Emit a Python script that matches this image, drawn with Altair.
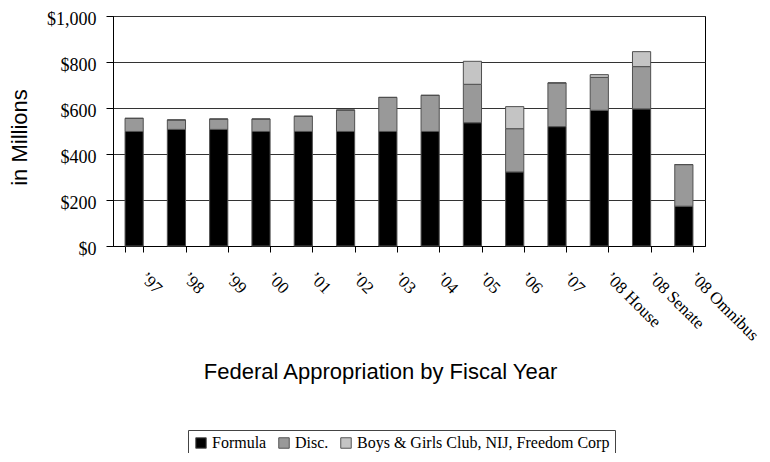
import altair as alt
import pandas as pd

years = ["’97", "’98", "’99", "’00", "’01", "’02", "’03", "’04", "’05", "’06", "’07",
         "’08 House", "’08 Senate", "’08 Omnibus"]
formula = [498, 507, 507, 498, 498, 498, 498, 498, 536, 322, 519, 590, 596, 173]
disc = [57, 41, 45, 54, 66, 93, 148, 157, 167, 188, 190, 143, 184, 181]
boys = [0, 0, 0, 0, 0, 0, 0, 0, 100, 96, 0, 12, 65, 0]
series = ["Formula", "Disc.", "Boys & Girls Club, NIJ, Freedom Corp"]
colors = ["#000000", "#999999", "#c4c4c4"]
y_ticks = [0, 200, 400, 600, 800, 1000]

rows = []
for i, yr in enumerate(years):
    for k, (name, vals) in enumerate(zip(series, [formula, disc, boys])):
        rows.append({"year": yr, "series": name, "value": vals[i], "ord": k})
df = pd.DataFrame(rows)

serif = "Liberation Serif"
sans = "Liberation Sans"

chart = alt.Chart(df).mark_bar(stroke="#505050", strokeWidth=1).encode(
    x=alt.X("year:N", sort=years,
            scale=alt.Scale(paddingInner=0.57, paddingOuter=0.285),
            axis=alt.Axis(title="Federal Appropriation by Fiscal Year",
                          labelAngle=45, labelAlign="left", labelBaseline="top",
                          labelOffset=14, labelPadding=17, labelFont=serif,
                          labelFontSize=17, labelFontWeight="normal",
                          labelColor="#000", labelLimit=0,
                          tickBand="extent", tickSize=6, tickColor="#000",
                          domainColor="#000", grid=False,
                          titleFont=sans, titleFontSize=22, titleFontWeight="normal",
                          titleColor="#000", titleAngle=0, titleAlign="center",
                          titleBaseline="alphabetic", titleX=267, titleY=132)),
    y=alt.Y("value:Q", stack="zero",
            scale=alt.Scale(domain=[0, 1000], nice=False),
            axis=alt.Axis(title="in Millions", values=y_ticks, format="$,.0f",
                          labelFont=serif, labelFontSize=18, labelFontWeight="normal",
                          labelColor="#000", labelOffset=3, labelFlush=False,
                          labelPadding=10, tickSize=7, tickColor="#000",
                          domainColor="#000", gridColor="#333", gridWidth=1,
                          titleFont=sans, titleFontSize=22, titleFontWeight="normal",
                          titleColor="#000", titleAngle=-90, titleAlign="center",
                          titleBaseline="middle", titleX=-94, titleY=121)),
    color=alt.Color("series:N", sort=series,
                    scale=alt.Scale(domain=series, range=colors),
                    legend=alt.Legend(title=None, orient="none", legendX=75, legendY=414,
                                      direction="horizontal", columns=3,
                                      symbolType="square", symbolSize=110,
                                      symbolStrokeColor="#555", symbolStrokeWidth=1,
                                      labelFont=serif, labelFontSize=16, labelColor="#000",
                                      labelOffset=3, columnPadding=9, padding=5,
                                      strokeColor="#444", fillColor="#fff",
                                      labelLimit=0)),
    order=alt.Order("ord:Q"),
).properties(
    width=592, height=230,
    autosize=alt.AutoSizeParams(type="none"),
    padding={"left": 105, "top": 8, "right": 57, "bottom": 207},
).configure_view(stroke="#000", strokeWidth=1)

chart.save("out.html", embed_options={"renderer": "svg", "actions": False})
